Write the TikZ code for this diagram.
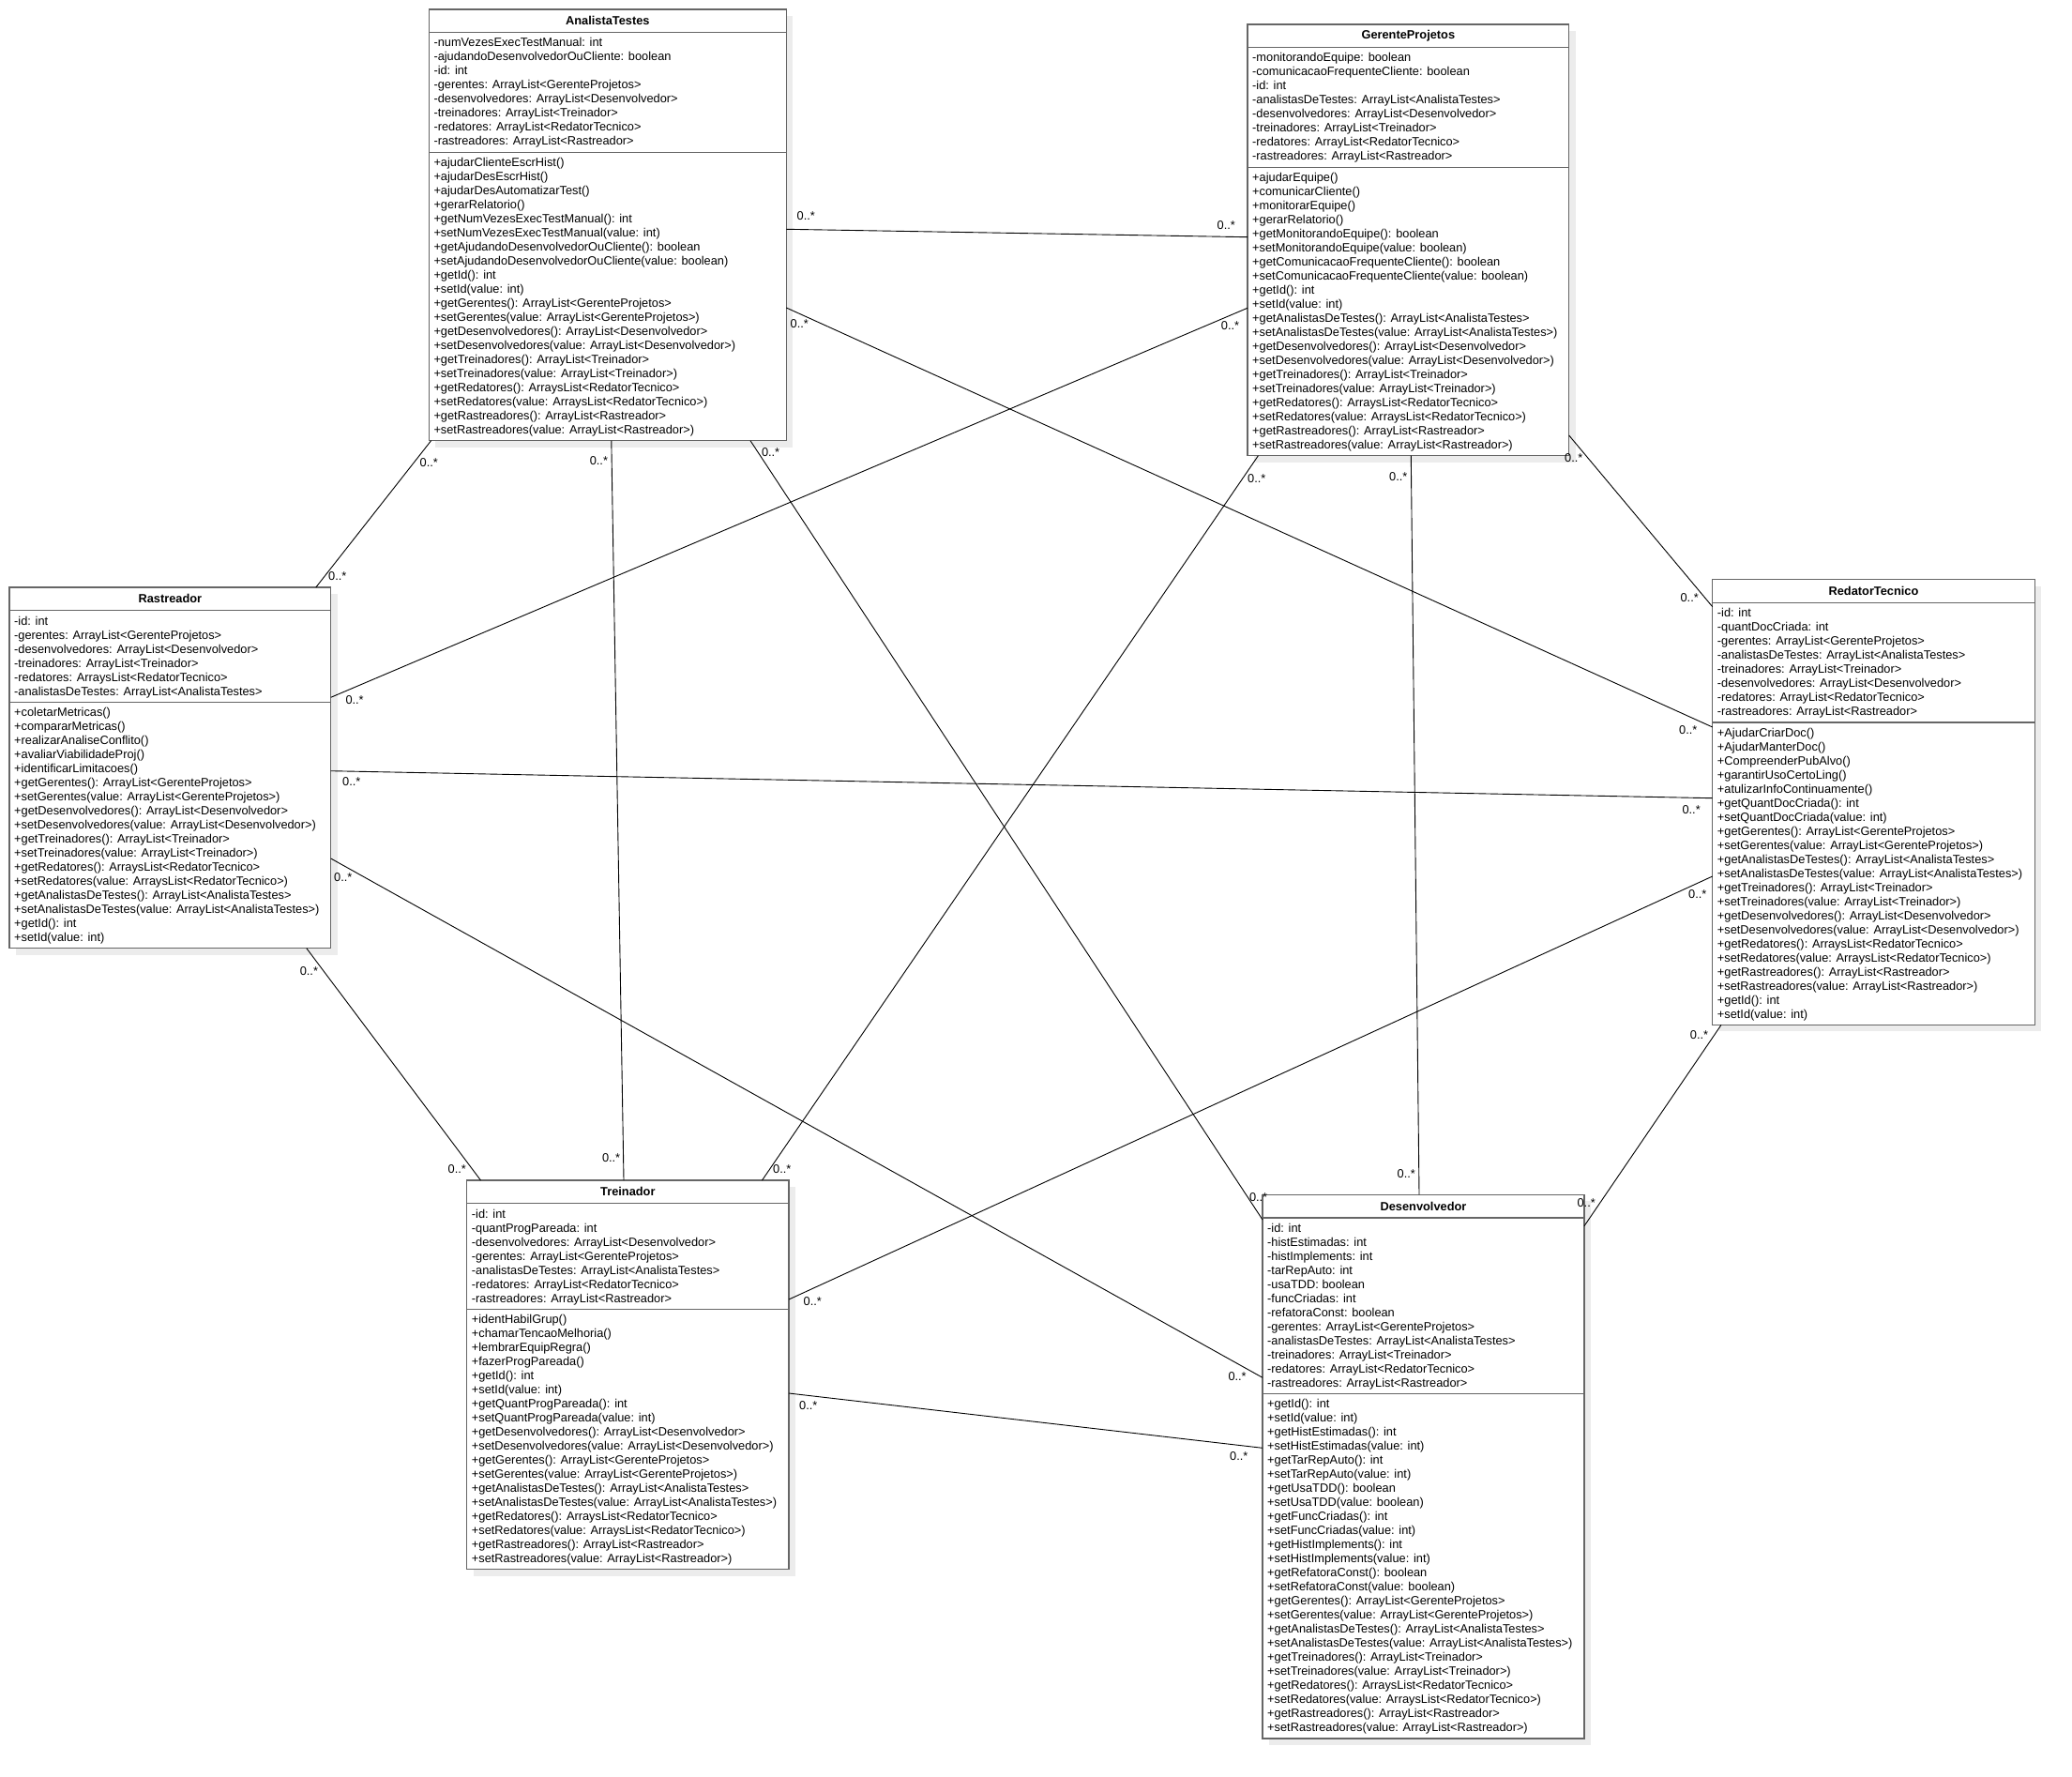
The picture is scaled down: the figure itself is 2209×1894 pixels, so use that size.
\documentclass[tikz,border=0pt]{standalone}
\usepackage{fontspec}
\setmainfont{Liberation Sans}
\usetikzlibrary{shadows}

\definecolor{boxline}{RGB}{102,102,102}
\definecolor{shade}{RGB}{236,236,236}

\tikzset{
  classbox/.style={draw=boxline, line width=1.3pt, fill=white, inner sep=0pt,
    outer sep=0pt, anchor=north west,
    general shadow={fill=shade, shadow xshift=7pt, shadow yshift=-7pt}},
  sepline/.style={draw=boxline, line width=1.3pt},
  classname/.style={font=\bfseries\fontsize{12.8}{15}\selectfont, inner sep=0pt},
  members/.style={font=\fontsize{12.8}{15}\selectfont, align=left, inner sep=0pt,
    anchor=base west},
  assoc/.style={draw=black, line width=0.9pt},
  mult/.style={font=\fontsize{12.8}{15}\selectfont, inner sep=0pt, anchor=base west},
}

% \umlclass{name}{x}{y}{width}{title}{#attrs}{attrs}{#ops}{ops}
% a multi-line node's base anchor sits on its last line, so the
% compartment texts are placed by the baseline of their last line
\newcommand{\umlclass}[9]{%
  \pgfmathsetlengthmacro\clsHead{24.7}%
  \pgfmathsetlengthmacro\clsMid{24.7+#6*15+7.5}%
  \pgfmathsetlengthmacro\clsTot{24.7+#6*15+7.5+#8*15+7.5}%
  \pgfmathsetlengthmacro\clsAttr{24.7+15.3+(#6-1)*15}%
  \pgfmathsetlengthmacro\clsOps{24.7+#6*15+7.5+15.3+(#8-1)*15}%
  \node[classbox, minimum width=#4pt, minimum height=\clsTot] (#1) at (#2,#3) {};
  \draw[sepline] ([yshift=-\clsHead]#1.north west) -- ([yshift=-\clsHead]#1.north east);
  \draw[sepline] ([yshift=-\clsMid]#1.north west) -- ([yshift=-\clsMid]#1.north east);
  \node[classname] (#1-name) at ([yshift=-12.35pt]#1.north) {#5};
  \node[members] (#1-attrs) at ([xshift=5pt,yshift=-\clsAttr]#1.north west) {#7};
  \node[members] (#1-ops) at ([xshift=5pt,yshift=-\clsOps]#1.north west) {#9};
}

\begin{document}
\begin{tikzpicture}[x=1pt,y=-1pt]
\fill[white] (0,0) rectangle (2209,1894);
\useasboundingbox (0,0) rectangle (2209,1894);

% ---------- classes ----------
\umlclass{AT}{457.3}{10}{381}{AnalistaTestes}{8}{%
-numVezesExecTestManual: int\\
-ajudandoDesenvolvedorOuCliente: boolean\\
-id: int\\
-gerentes: ArrayList<GerenteProjetos>\\
-desenvolvedores: ArrayList<Desenvolvedor>\\
-treinadores: ArrayList<Treinador>\\
-redatores: ArrayList<RedatorTecnico>\\
-rastreadores: ArrayList<Rastreador>}{20}{%
+ajudarClienteEscrHist()\\
+ajudarDesEscrHist()\\
+ajudarDesAutomatizarTest()\\
+gerarRelatorio()\\
+getNumVezesExecTestManual(): int\\
+setNumVezesExecTestManual(value: int)\\
+getAjudandoDesenvolvedorOuCliente(): boolean\\
+setAjudandoDesenvolvedorOuCliente(value: boolean)\\
+getId(): int\\
+setId(value: int)\\
+getGerentes(): ArrayList<GerenteProjetos>\\
+setGerentes(value: ArrayList<GerenteProjetos>)\\
+getDesenvolvedores(): ArrayList<Desenvolvedor>\\
+setDesenvolvedores(value: ArrayList<Desenvolvedor>)\\
+getTreinadores(): ArrayList<Treinador>\\
+setTreinadores(value: ArrayList<Treinador>)\\
+getRedatores(): ArraysList<RedatorTecnico>\\
+setRedatores(value: ArraysList<RedatorTecnico>)\\
+getRastreadores(): ArrayList<Rastreador>\\
+setRastreadores(value: ArrayList<Rastreador>)}

\umlclass{GP}{1330}{26}{342.7}{GerenteProjetos}{8}{%
-monitorandoEquipe: boolean\\
-comunicacaoFrequenteCliente: boolean\\
-id: int\\
-analistasDeTestes: ArrayList<AnalistaTestes>\\
-desenvolvedores: ArrayList<Desenvolvedor>\\
-treinadores: ArrayList<Treinador>\\
-redatores: ArrayList<RedatorTecnico>\\
-rastreadores: ArrayList<Rastreador>}{20}{%
+ajudarEquipe()\\
+comunicarCliente()\\
+monitorarEquipe()\\
+gerarRelatorio()\\
+getMonitorandoEquipe(): boolean\\
+setMonitorandoEquipe(value: boolean)\\
+getComunicacaoFrequenteCliente(): boolean\\
+setComunicacaoFrequenteCliente(value: boolean)\\
+getId(): int\\
+setId(value: int)\\
+getAnalistasDeTestes(): ArrayList<AnalistaTestes>\\
+setAnalistasDeTestes(value: ArrayList<AnalistaTestes>)\\
+getDesenvolvedores(): ArrayList<Desenvolvedor>\\
+setDesenvolvedores(value: ArrayList<Desenvolvedor>)\\
+getTreinadores(): ArrayList<Treinador>\\
+setTreinadores(value: ArrayList<Treinador>)\\
+getRedatores(): ArraysList<RedatorTecnico>\\
+setRedatores(value: ArraysList<RedatorTecnico>)\\
+getRastreadores(): ArrayList<Rastreador>\\
+setRastreadores(value: ArrayList<Rastreador>)}

\umlclass{RA}{10}{626}{342.7}{Rastreador}{6}{%
-id: int\\
-gerentes: ArrayList<GerenteProjetos>\\
-desenvolvedores: ArrayList<Desenvolvedor>\\
-treinadores: ArrayList<Treinador>\\
-redatores: ArraysList<RedatorTecnico>\\
-analistasDeTestes: ArrayList<AnalistaTestes>}{17}{%
+coletarMetricas()\\
+compararMetricas()\\
+realizarAnaliseConflito()\\
+avaliarViabilidadeProj()\\
+identificarLimitacoes()\\
+getGerentes(): ArrayList<GerenteProjetos>\\
+setGerentes(value: ArrayList<GerenteProjetos>)\\
+getDesenvolvedores(): ArrayList<Desenvolvedor>\\
+setDesenvolvedores(value: ArrayList<Desenvolvedor>)\\
+getTreinadores(): ArrayList<Treinador>\\
+setTreinadores(value: ArrayList<Treinador>)\\
+getRedatores(): ArraysList<RedatorTecnico>\\
+setRedatores(value: ArraysList<RedatorTecnico>)\\
+getAnalistasDeTestes(): ArrayList<AnalistaTestes>\\
+setAnalistasDeTestes(value: ArrayList<AnalistaTestes>)\\
+getId(): int\\
+setId(value: int)}

\umlclass{RT}{1825.7}{617.7}{343.6}{RedatorTecnico}{8}{%
-id: int\\
-quantDocCriada: int\\
-gerentes: ArrayList<GerenteProjetos>\\
-analistasDeTestes: ArrayList<AnalistaTestes>\\
-treinadores: ArrayList<Treinador>\\
-desenvolvedores: ArrayList<Desenvolvedor>\\
-redatores: ArrayList<RedatorTecnico>\\
-rastreadores: ArrayList<Rastreador>}{21}{%
+AjudarCriarDoc()\\
+AjudarManterDoc()\\
+CompreenderPubAlvo()\\
+garantirUsoCertoLing()\\
+atulizarInfoContinuamente()\\
+getQuantDocCriada(): int\\
+setQuantDocCriada(value: int)\\
+getGerentes(): ArrayList<GerenteProjetos>\\
+setGerentes(value: ArrayList<GerenteProjetos>)\\
+getAnalistasDeTestes(): ArrayList<AnalistaTestes>\\
+setAnalistasDeTestes(value: ArrayList<AnalistaTestes>)\\
+getTreinadores(): ArrayList<Treinador>\\
+setTreinadores(value: ArrayList<Treinador>)\\
+getDesenvolvedores(): ArrayList<Desenvolvedor>\\
+setDesenvolvedores(value: ArrayList<Desenvolvedor>)\\
+getRedatores(): ArraysList<RedatorTecnico>\\
+setRedatores(value: ArraysList<RedatorTecnico>)\\
+getRastreadores(): ArrayList<Rastreador>\\
+setRastreadores(value: ArrayList<Rastreador>)\\
+getId(): int\\
+setId(value: int)}

\umlclass{TR}{497.7}{1258}{343.3}{Treinador}{7}{%
-id: int\\
-quantProgPareada: int\\
-desenvolvedores: ArrayList<Desenvolvedor>\\
-gerentes: ArrayList<GerenteProjetos>\\
-analistasDeTestes: ArrayList<AnalistaTestes>\\
-redatores: ArrayList<RedatorTecnico>\\
-rastreadores: ArrayList<Rastreador>}{18}{%
+identHabilGrup()\\
+chamarTencaoMelhoria()\\
+lembrarEquipRegra()\\
+fazerProgPareada()\\
+getId(): int\\
+setId(value: int)\\
+getQuantProgPareada(): int\\
+setQuantProgPareada(value: int)\\
+getDesenvolvedores(): ArrayList<Desenvolvedor>\\
+setDesenvolvedores(value: ArrayList<Desenvolvedor>)\\
+getGerentes(): ArrayList<GerenteProjetos>\\
+setGerentes(value: ArrayList<GerenteProjetos>)\\
+getAnalistasDeTestes(): ArrayList<AnalistaTestes>\\
+setAnalistasDeTestes(value: ArrayList<AnalistaTestes>)\\
+getRedatores(): ArraysList<RedatorTecnico>\\
+setRedatores(value: ArraysList<RedatorTecnico>)\\
+getRastreadores(): ArrayList<Rastreador>\\
+setRastreadores(value: ArrayList<Rastreador>)}

\umlclass{DE}{1346}{1273.3}{343}{Desenvolvedor}{12}{%
-id: int\\
-histEstimadas: int\\
-histImplements: int\\
-tarRepAuto: int\\
-usaTDD: boolean\\
-funcCriadas: int\\
-refatoraConst: boolean\\
-gerentes: ArrayList<GerenteProjetos>\\
-analistasDeTestes: ArrayList<AnalistaTestes>\\
-treinadores: ArrayList<Treinador>\\
-redatores: ArrayList<RedatorTecnico>\\
-rastreadores: ArrayList<Rastreador>}{24}{%
+getId(): int\\
+setId(value: int)\\
+getHistEstimadas(): int\\
+setHistEstimadas(value: int)\\
+getTarRepAuto(): int\\
+setTarRepAuto(value: int)\\
+getUsaTDD(): boolean\\
+setUsaTDD(value: boolean)\\
+getFuncCriadas(): int\\
+setFuncCriadas(value: int)\\
+getHistImplements(): int\\
+setHistImplements(value: int)\\
+getRefatoraConst(): boolean\\
+setRefatoraConst(value: boolean)\\
+getGerentes(): ArrayList<GerenteProjetos>\\
+setGerentes(value: ArrayList<GerenteProjetos>)\\
+getAnalistasDeTestes(): ArrayList<AnalistaTestes>\\
+setAnalistasDeTestes(value: ArrayList<AnalistaTestes>)\\
+getTreinadores(): ArrayList<Treinador>\\
+setTreinadores(value: ArrayList<Treinador>)\\
+getRedatores(): ArraysList<RedatorTecnico>\\
+setRedatores(value: ArraysList<RedatorTecnico>)\\
+getRastreadores(): ArrayList<Rastreador>\\
+setRastreadores(value: ArrayList<Rastreador>)}

% ---------- associations ----------
\draw[assoc] ([yshift=-234.3pt]AT.north east) -- ([yshift=-226.7pt]GP.north west);
\draw[assoc] ([yshift=-318pt]AT.north east) -- ([yshift=-157.3pt]RT.north west);
\draw[assoc] ([xshift=2.3pt]AT.south west) -- ([xshift=326.8pt]RA.north west);
\draw[assoc] ([xshift=194.5pt]AT.south west) -- ([xshift=167.3pt]TR.north west);
\draw[assoc] ([xshift=342.7pt]AT.south west) -- ([yshift=-26.7pt]DE.north west);
\draw[assoc] ([yshift=-302.3pt]GP.north west) -- ([yshift=-117.3pt]RA.north east);
\draw[assoc] ([xshift=11.4pt]GP.south west) -- ([xshift=314.8pt]TR.north west);
\draw[assoc] ([xshift=174.3pt]GP.south west) -- ([xshift=167pt]DE.north west);
\draw[assoc] ([yshift=-438pt]GP.north east) -- ([yshift=-29pt]RT.north west);
\draw[assoc] ([yshift=-195.7pt]RA.north east) -- ([yshift=-233pt]RT.north west);
\draw[assoc] ([yshift=-289pt]RA.north east) -- ([yshift=-195pt]DE.north west);
\draw[assoc] ([xshift=316.8pt]RA.south west) -- ([xshift=14.8pt]TR.north west);
\draw[assoc] ([yshift=-127pt]TR.north east) -- ([yshift=-316.3pt]RT.north west);
\draw[assoc] ([yshift=-227pt]TR.north east) -- ([yshift=-270pt]DE.north west);
\draw[assoc] ([yshift=-33.4pt]DE.north east) -- ([xshift=9.3pt]RT.south west);

% ---------- multiplicities ----------
\node[mult] (m1a) at (849.5,234.2) {0..*};
\node[mult] (m1b) at (1297.5,244.1) {0..*};
\node[mult] (m2a) at (842.5,349.6) {0..*};
\node[mult] (m2b) at (1790,782.9) {0..*};
\node[mult] (m3a) at (447.5,497.6) {0..*};
\node[mult] (m3b) at (350,618.6) {0..*};
\node[mult] (m4a) at (628.6,495.6) {0..*};
\node[mult] (m4b) at (641.8,1238.9) {0..*};
\node[mult] (m5a) at (811.8,486.3) {0..*};
\node[mult] (m5b) at (1331.8,1280.3) {0..*};
\node[mult] (m6a) at (1301.7,351.2) {0..*};
\node[mult] (m6b) at (368.3,750.6) {0..*};
\node[mult] (m7a) at (1330,514.6) {0..*};
\node[mult] (m7b) at (824,1250.6) {0..*};
\node[mult] (m8a) at (1481,512.3) {0..*};
\node[mult] (m8b) at (1489.5,1255.3) {0..*};
\node[mult] (m9a) at (1668,492.6) {0..*};
\node[mult] (m9b) at (1791.4,641.9) {0..*};
\node[mult] (m10a) at (365,837.9) {0..*};
\node[mult] (m10b) at (1793.3,867.3) {0..*};
\node[mult] (m11a) at (356,939.6) {0..*};
\node[mult] (m11b) at (1309.3,1471.3) {0..*};
\node[mult] (m12a) at (319.6,1039.6) {0..*};
\node[mult] (m12b) at (477.5,1250.6) {0..*};
\node[mult] (m13a) at (856.5,1391.3) {0..*};
\node[mult] (m13b) at (1800,957.3) {0..*};
\node[mult] (m14a) at (852,1502.9) {0..*};
\node[mult] (m14b) at (1311,1556.3) {0..*};
\node[mult] (m15a) at (1681.4,1286.9) {0..*};
\node[mult] (m15b) at (1801.7,1107.3) {0..*};
\end{tikzpicture}
\end{document}
